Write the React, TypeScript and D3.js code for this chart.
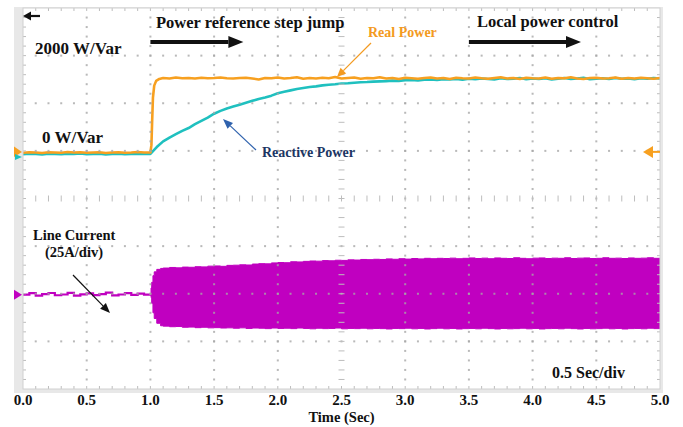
import React from 'react';
import * as d3 from 'd3';

// ---------- data ----------
const timeTicks = [0, 0.5, 1, 1.5, 2, 2.5, 3, 3.5, 4, 4.5, 5];
const timeTickLabels = ['0.0', '0.5', '1.0', '1.5', '2.0', '2.5', '3.0', '3.5', '4.0', '4.5', '5.0'];

// sampling interval of the stored traces (s)
const SAMPLE = 0.05;

// Real power (W): before the reference step, sampled from t = 0
const realPowerIdle = [-40, -30, -35, -45, -30, -35, -40, -25, -35, -30, -40, -35, -30, -45, -35, -30, -40, -35, -25, -35, -35];
// Real power step edge (t, W)
const realPowerStep: [number, number][] = [
  [1.0, -35], [1.008, 120], [1.014, 650], [1.02, 1120], [1.03, 1370], [1.045, 1470], [1.07, 1510],
];
// Real power after the step, sampled from t = 1.10
const realPowerSettled = [
  1530, 1520, 1540, 1525, 1530, 1520, 1535, 1525, 1530, 1540,
  1525, 1520, 1530, 1535, 1520, 1500, 1530, 1525, 1540, 1520,
  1530, 1545, 1515, 1530, 1520, 1535, 1525, 1550, 1520, 1530,
  1540, 1515, 1530, 1525, 1545, 1520, 1530, 1510, 1535, 1525,
  1515, 1530, 1540, 1520, 1530, 1510, 1535, 1525, 1520, 1540,
  1525, 1515, 1530, 1545, 1520, 1530, 1510, 1535, 1525, 1520,
  1540, 1515, 1530, 1525, 1545, 1520, 1510, 1530, 1535, 1520,
  1525, 1540, 1515, 1530, 1520, 1535, 1525, 1515, 1530,
];

// Reactive power (Var): before the step, sampled from t = 0
const reactivePowerIdle = [-70, -60, -65, -75, -60, -65, -70, -60, -65, -55, -70, -65, -60, -75, -65, -60, -70, -65, -60, -65, -65];
// Reactive power response, sampled from t = 1.00
const reactivePowerResponse = [
  -65, 80, 200, 280, 350, 420, 480, 560, 630, 700,
  780, 840, 890, 930, 970, 1010, 1050, 1090, 1120, 1160,
  1210, 1240, 1270, 1300, 1320, 1340, 1355, 1375, 1390, 1400,
  1415, 1420, 1430, 1440, 1445, 1455, 1460, 1465, 1475, 1470,
  1485, 1490, 1480, 1495, 1500, 1490, 1505, 1500, 1510, 1495,
  1515, 1505, 1520, 1510, 1500, 1525, 1510, 1515, 1530, 1505,
  1520, 1510, 1525, 1500, 1515, 1530, 1510, 1520, 1535, 1505,
  1515, 1525, 1510, 1530, 1515, 1520, 1505, 1525, 1515, 1530,
  1520,
];

// Line current (A) before the step, sampled from t = 0
const currentIdle = [-0.5, 0.3, -1.0, -0.2, 0.4, -0.8, -0.4, 0.5, -1.0, -0.3, 0.2, -0.7, -0.2, 0.6, -0.9, -0.4, 0.3, -0.6, 0.1, -0.5, -0.4];
// Line current envelope at onset (t, upper A, lower A)
const currentOnset: [number, number, number][] = [
  [1.0, 0, 0], [1.005, 3, -2], [1.01, 6, -5], [1.02, 9.5, -10], [1.03, 11.5, -13], [1.05, 12.8, -15.5], [1.08, 13.3, -16.8],
];
// Line current envelope, sampled from t = 1.10
const currentUpper = [
  13.5, 13.8, 13.6, 14.0, 13.9, 14.2, 14.1, 14.5, 14.6, 14.4,
  14.9, 15.0, 15.2, 15.1, 15.6, 15.8, 15.7, 16.2, 16.4, 16.3,
  16.8, 16.7, 17.0, 17.2, 17.1, 17.4, 17.3, 17.6, 17.5, 17.8,
  17.7, 18.0, 17.9, 18.1, 18.0, 18.3, 18.1, 18.4, 18.2, 18.5,
  18.3, 18.6, 18.4, 18.6, 18.5, 18.7, 18.4, 18.6, 18.8, 18.5,
  18.7, 18.4, 18.8, 18.6, 18.5, 18.9, 18.6, 18.4, 18.7, 18.8,
  18.5, 18.7, 18.6, 18.9, 18.5, 18.7, 18.8, 18.5, 18.6, 18.9,
  18.6, 18.7, 18.5, 18.8, 18.6, 18.7, 18.9, 18.6, 18.7,
];
const currentLower = [
  -17.0, -17.3, -17.2, -17.6, -17.5, -17.8, -17.6, -17.9, -17.8, -18.0,
  -17.9, -18.1, -17.9, -18.2, -18.0, -18.1, -18.3, -18.0, -18.2, -18.1,
  -18.3, -18.0, -18.2, -18.4, -18.1, -18.3, -18.2, -18.0, -18.4, -18.2,
  -18.3, -18.1, -18.4, -18.2, -18.3, -18.5, -18.2, -18.3, -18.1, -18.4,
  -18.2, -18.5, -18.3, -18.1, -18.4, -18.2, -18.5, -18.3, -18.2, -18.4,
  -18.1, -18.3, -18.5, -18.2, -18.4, -18.3, -18.1, -18.4, -18.2, -18.5,
  -18.3, -18.2, -18.4, -18.1, -18.3, -18.5, -18.2, -18.4, -18.3, -18.1,
  -18.4, -18.2, -18.5, -18.3, -18.2, -18.4, -18.1, -18.3, -18.2,
];

// ---------- layout ----------
const W = 683;
const H = 427;
const plot = { left: 23, right: 660, top: 8, bottom: 389 };
const H_DIV = 10;
const V_DIV = 8;
const SUB = 5;

const FONT = "'Liberation Serif', 'Times New Roman', serif";
const ORANGE = '#f7a020';
const CYAN = '#1fc0bf';
const MAGENTA = '#c000c0';

const x = d3.scaleLinear().domain([0, 5]).range([plot.left, plot.right]);
// 1000 W/div, zero three divisions below the top edge
const yPower = d3.scaleLinear().domain([-5000, 3000]).range([plot.bottom, plot.top]);
// 25 A/div, zero two divisions above the bottom edge
const yCurrent = d3.scaleLinear().domain([-50, 150]).range([plot.bottom, plot.top]);

const realSeries: [number, number][] = [
  ...realPowerIdle.map((v, i) => [i * SAMPLE, v] as [number, number]),
  ...realPowerStep,
  ...realPowerSettled.map((v, i) => [1.1 + i * SAMPLE, v] as [number, number]),
];
const reactiveSeries: [number, number][] = [
  ...reactivePowerIdle.map((v, i) => [i * SAMPLE, v] as [number, number]),
  ...reactivePowerResponse.slice(1).map((v, i) => [1.0 + (i + 1) * SAMPLE, v] as [number, number]),
];
const currentIdleSeries: [number, number][] = currentIdle.map((v, i) => [i * SAMPLE, v]);
const envelope: [number, number, number][] = [
  ...currentOnset,
  ...currentUpper.map((u, i) => [1.1 + i * SAMPLE, u, currentLower[i]] as [number, number, number]),
];

const powerLine = d3.line<[number, number]>().x((d) => x(d[0])).y((d) => yPower(d[1]));
const currentLine = d3.line<[number, number]>().x((d) => x(d[0])).y((d) => yCurrent(d[1])).curve(d3.curveStepAfter);
const currentArea = d3
  .area<[number, number, number]>()
  .x((d) => x(d[0]))
  .y0((d) => yCurrent(d[2]))
  .y1((d) => yCurrent(d[1]))
  .curve(d3.curveStepAfter);

function Arrow({ x1, y1, x2, y2, color, width, headLen, headWidth }: {
  x1: number; y1: number; x2: number; y2: number; color: string; width: number; headLen: number; headWidth: number;
}) {
  const a = Math.atan2(y2 - y1, x2 - x1);
  const bx = x2 - headLen * Math.cos(a);
  const by = y2 - headLen * Math.sin(a);
  const px = (headWidth / 2) * Math.sin(a);
  const py = (headWidth / 2) * -Math.cos(a);
  return (
    <g>
      <line x1={x1} y1={y1} x2={bx} y2={by} stroke={color} strokeWidth={width} />
      <polygon points={`${x2},${y2} ${bx + px},${by + py} ${bx - px},${by - py}`} fill={color} />
    </g>
  );
}

export default function App() {
  const pw = plot.right - plot.left;
  const ph = plot.bottom - plot.top;
  const dx = pw / H_DIV;
  const dy = ph / V_DIV;

  // graticule dots
  const dots: { cx: number; cy: number }[] = [];
  for (let i = 1; i < H_DIV; i++) {
    if (i === H_DIV / 2) continue;
    for (let k = 1; k < V_DIV * SUB; k++) dots.push({ cx: plot.left + i * dx, cy: plot.top + (k * dy) / SUB });
  }
  for (let j = 1; j < V_DIV; j++) {
    if (j === V_DIV / 2) continue;
    for (let k = 1; k < H_DIV * SUB; k++) dots.push({ cx: plot.left + (k * dx) / SUB, cy: plot.top + j * dy });
  }
  // edge and centre-axis ticks
  const ticks: { x1: number; y1: number; x2: number; y2: number }[] = [];
  for (let k = 1; k < H_DIV * SUB; k++) {
    const tx = plot.left + (k * dx) / SUB;
    ticks.push({ x1: tx, y1: plot.top, x2: tx, y2: plot.top + 3 });
    ticks.push({ x1: tx, y1: plot.bottom, x2: tx, y2: plot.bottom - 3 });
    const cy = plot.top + ph / 2;
    ticks.push({ x1: tx, y1: cy - 3, x2: tx, y2: cy + 3 });
  }
  for (let k = 1; k < V_DIV * SUB; k++) {
    const ty = plot.top + (k * dy) / SUB;
    ticks.push({ x1: plot.left, y1: ty, x2: plot.left + 3, y2: ty });
    ticks.push({ x1: plot.right, y1: ty, x2: plot.right - 3, y2: ty });
    const cx = plot.left + pw / 2;
    ticks.push({ x1: cx - 3, y1: ty, x2: cx + 3, y2: ty });
  }

  const zeroPower = yPower(0);
  const zeroCurrent = yCurrent(0);

  return (
    <svg width={W} height={H} style={{ position: 'absolute', left: 0, top: 0, background: '#fff' }}>
      <defs>
        <clipPath id="screen">
          <rect x={plot.left} y={plot.top} width={pw} height={ph} />
        </clipPath>
      </defs>
      {/* frame */}
      <rect x={14} y={plot.top - 1} width={plot.right + 3 - 14} height={ph + 5} fill="#e8e8e8" />
      <rect x={plot.left} y={plot.top} width={pw} height={ph} fill="#fff" />

      {/* traces */}
      <g clipPath="url(#screen)">
        <path d={currentLine(currentIdleSeries) ?? ''} fill="none" stroke={MAGENTA} strokeWidth={2.2} />
        <path d={currentArea(envelope) ?? ''} fill={MAGENTA} stroke={MAGENTA} strokeWidth={1} />
        <path d={powerLine(reactiveSeries) ?? ''} fill="none" stroke={CYAN} strokeWidth={2.6} strokeLinejoin="round" />
        <path d={powerLine(realSeries) ?? ''} fill="none" stroke={ORANGE} strokeWidth={2.6} strokeLinejoin="round" />
      </g>

      {/* graticule */}
      <g fill="#a8a8a8" fillOpacity={0.8}>
        {dots.map((d, i) => (
          <rect key={i} x={d.cx - 1} y={d.cy - 1} width={2} height={2} />
        ))}
      </g>
      <g stroke="#bdbdbd" strokeWidth={1}>
        {ticks.map((t, i) => (
          <line key={i} {...t} />
        ))}
      </g>
      <rect x={plot.left} y={plot.top} width={pw} height={ph} fill="none" stroke="#d0d0d0" strokeWidth={1} />

      {/* channel markers */}
      <polygon points={`14,${zeroPower - 4.5} 22,${zeroPower + 1} 14,${zeroPower + 6}`} fill={ORANGE} />
      <polygon points={`15,${zeroPower + 3} 22,${zeroPower + 6} 15,${zeroPower + 9}`} fill={CYAN} />
      <polygon points={`14,${zeroCurrent - 4} 22,${zeroCurrent + 1} 14,${zeroCurrent + 6}`} fill={MAGENTA} />
      <g>
        <polygon points={`643,${zeroPower + 1} 653,${zeroPower - 5} 653,${zeroPower + 7}`} fill={ORANGE} />
        <line x1={652} y1={zeroPower + 1} x2={660} y2={zeroPower + 1} stroke={ORANGE} strokeWidth={2} />
      </g>
      {/* trigger position marker */}
      <Arrow x1={40} y1={16} x2={23} y2={16} color="#111" width={2.2} headLen={8} headWidth={9} />

      {/* annotations */}
      <g fontFamily={FONT} fontWeight="bold">
        <text x={156} y={28} fontSize={16.5} fill="#111">Power reference step jump</text>
        <Arrow x1={x(1.0)} y1={42} x2={x(1.73)} y2={42} color="#111" width={4} headLen={15} headWidth={12} />
        <text x={477} y={27} fontSize={16.5} fill="#111">Local power control</text>
        <Arrow x1={x(3.5)} y1={42} x2={x(4.38)} y2={42} color="#111" width={4} headLen={15} headWidth={12} />

        <text x={35} y={54} fontSize={17} fill="#111">2000 W/Var</text>
        <text x={42} y={143} fontSize={17} fill="#111">0 W/Var</text>

        <text x={368} y={37} fontSize={14} fill="#f39a21">Real Power</text>
        <Arrow x1={371} y1={43} x2={337} y2={77} color="#f39a21" width={1.2} headLen={9} headWidth={8} />

        <text x={262} y={157} fontSize={14} fill="#1c3664">Reactive Power</text>
        <Arrow x1={256} y1={150} x2={223} y2={119} color="#2f62ad" width={1.2} headLen={10} headWidth={8} />

        <text x={33} y={240} fontSize={14.5} fill="#111">Line Current</text>
        <text x={45} y={257} fontSize={14.5} fill="#111">(25A/div)</text>
        <Arrow x1={73} y1={275} x2={110} y2={313} color="#111" width={1.2} headLen={10} headWidth={8} />

        <text x={552} y={378} fontSize={16} fill="#111">0.5 Sec/div</text>

        {timeTicks.map((t, i) => (
          <text key={t} x={x(t)} y={405} fontSize={15} textAnchor="middle" fill="#111">
            {timeTickLabels[i]}
          </text>
        ))}
        <text x={x(2.5)} y={422} fontSize={14.5} textAnchor="middle" fill="#111">Time (Sec)</text>
      </g>
    </svg>
  );
}
